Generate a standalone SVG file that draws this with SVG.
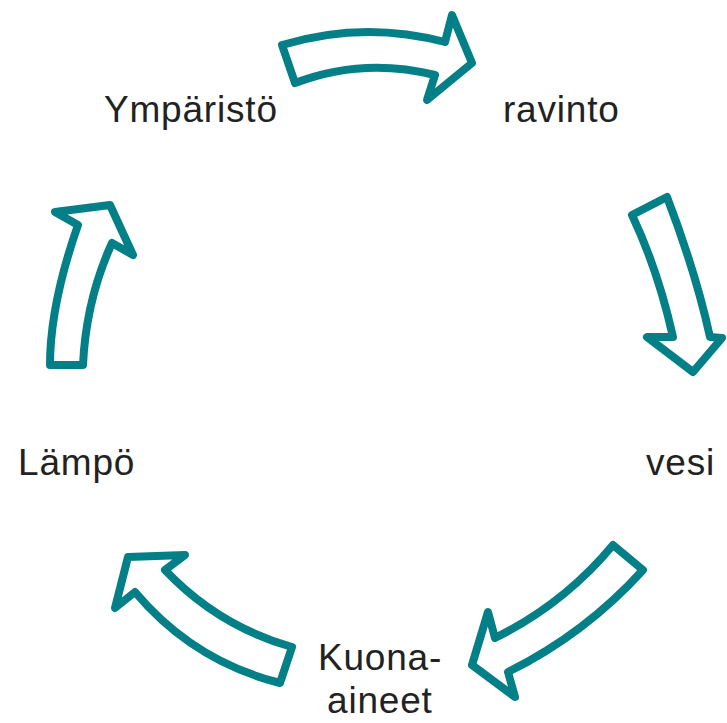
<svg xmlns="http://www.w3.org/2000/svg" width="727" height="723" viewBox="0 0 727 723">
  <style>
    .arrow { fill: #ffffff; stroke: #037f87; stroke-width: 8; stroke-linejoin: round; }
    .label { font-family: "Liberation Sans", Arial, sans-serif; font-size: 37px; fill: #222222; letter-spacing: 0.8px; }
  </style>
  <rect width="727" height="723" fill="#ffffff"/>

  <!-- curved block arrows of the cycle -->
  <g id="connectors">
    <path id="arrow-top" class="arrow" d="M282,45 Q363,20.5 445,42 L452,15 L472,63 L427,100 L435,75 Q363,57 295,83 Z"/>
    <path id="arrow-right" class="arrow" d="M632,215 L667,197 Q696,273 710,337 L722,338 L693,372 L647,337 L673,337 Q658,270 632,215 Z"/>
    <path id="arrow-lower-right" class="arrow" d="M613,545 L643,570 Q585,634 508,672 L515,697 L472,665 L488,612 L495,638 Q564,604 613,545 Z"/>
    <path id="arrow-lower-left" class="arrow" d="M292,647 L280,683 Q193,661 135,592 L115,608 L128,557 L185,555 L165,570 Q218,626 292,647 Z"/>
    <path id="arrow-left" class="arrow" d="M50,365 L83,365 Q86,300 112,243 L133,255 L110,205 L55,212 L78,225 Q50,305 50,365 Z"/>
  </g>

  <g id="node-ymparisto"><text class="label" x="104" y="122">Ympäristö</text></g>
  <g id="node-ravinto"><text class="label" x="503" y="122" letter-spacing="1.5">ravinto</text></g>
  <g id="node-vesi"><text class="label" x="646" y="475" letter-spacing="0">vesi</text></g>
  <g id="node-kuona-aineet">
    <text class="label" x="318" y="670">Kuona-</text>
    <text class="label" x="327" y="713">aineet</text>
  </g>
  <g id="node-lampo"><text class="label" x="18" y="475" letter-spacing="1.2">Lämpö</text></g>
</svg>
